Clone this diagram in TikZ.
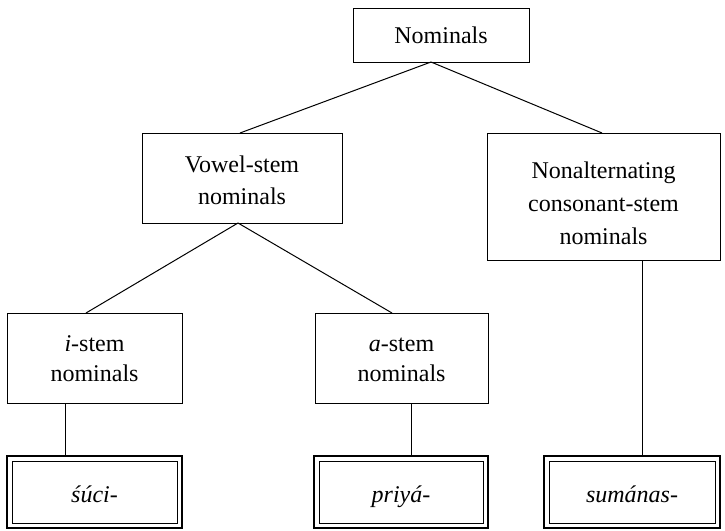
\documentclass[tikz,border=0pt]{standalone}
\usepackage{fontspec}
\setmainfont{Liberation Serif}
\begin{document}
\begin{tikzpicture}[x=1pt,y=-1pt,
  box/.style={draw,line width=1pt,inner sep=0pt,outer sep=0pt,align=center,
    font=\fontsize{24}{31}\selectfont},
  lexbox/.style={draw,line width=2pt,inner sep=0pt,outer sep=0pt,
    minimum height=72,text height=20pt,text depth=0pt,
    font=\fontsize{24}{31}\selectfont\itshape},
  inner/.style={line width=0.9pt},
  link/.style={line width=1pt}]
\useasboundingbox (0,0) rectangle (725,530);

% category boxes
\node[box,minimum width=176,minimum height=54] (nom) at (441,35) {Nominals};
\node[box,minimum width=200,minimum height=90,
  font=\fontsize{24}{32}\selectfont] (vow) at (242,178)
  {\rule{0pt}{22pt}Vowel-stem\\nominals};
\node[box,minimum width=233,minimum height=127,
  font=\fontsize{24}{33}\selectfont] (non) at (603.5,196.5)
  {\rule{0pt}{30pt}Nonalternating\\consonant-stem\\nominals};
\node[box,minimum width=175,minimum height=90,
  font=\fontsize{24}{30}\selectfont] (ist) at (94.5,358)
  {\rule{0pt}{18pt}\textit{i}-stem\\nominals};
\node[box,minimum width=173,minimum height=90,
  font=\fontsize{24}{30}\selectfont] (ast) at (401.5,358)
  {\rule{0pt}{18pt}\textit{a}-stem\\nominals};

% example stems, double-framed
\node[lexbox,minimum width=175] (suci) at (94.5,492) {śúci-};
\node[lexbox,minimum width=174] (priya) at (401,492) {priyá-};
\node[lexbox,minimum width=176] (suman) at (632,492) {sumánas-};
\foreach \n in {suci,priya,suman}
  \draw[inner] ([shift={(5,5)}]\n.north west) rectangle ([shift={(-5,-5)}]\n.south east);

% tree connectors
\draw[link] ([xshift=-10pt]nom.south) -- ([xshift=-2pt]vow.north);
\draw[link] ([xshift=-10pt]nom.south) -- ([xshift=-1.5pt]non.north);
\draw[link] ([xshift=-4pt]vow.south) -- ([xshift=-8.5pt]ist.north);
\draw[link] ([xshift=-4pt]vow.south) -- ([xshift=-9.5pt]ast.north);
\draw[link] ([xshift=-29.5pt]ist.south) -- ([xshift=-29.5pt]suci.north);
\draw[link] ([xshift=9.5pt]ast.south) -- ([xshift=10pt]priya.north);
\draw[link] ([xshift=38.5pt]non.south) -- ([xshift=10pt]suman.north);
\end{tikzpicture}
\end{document}
